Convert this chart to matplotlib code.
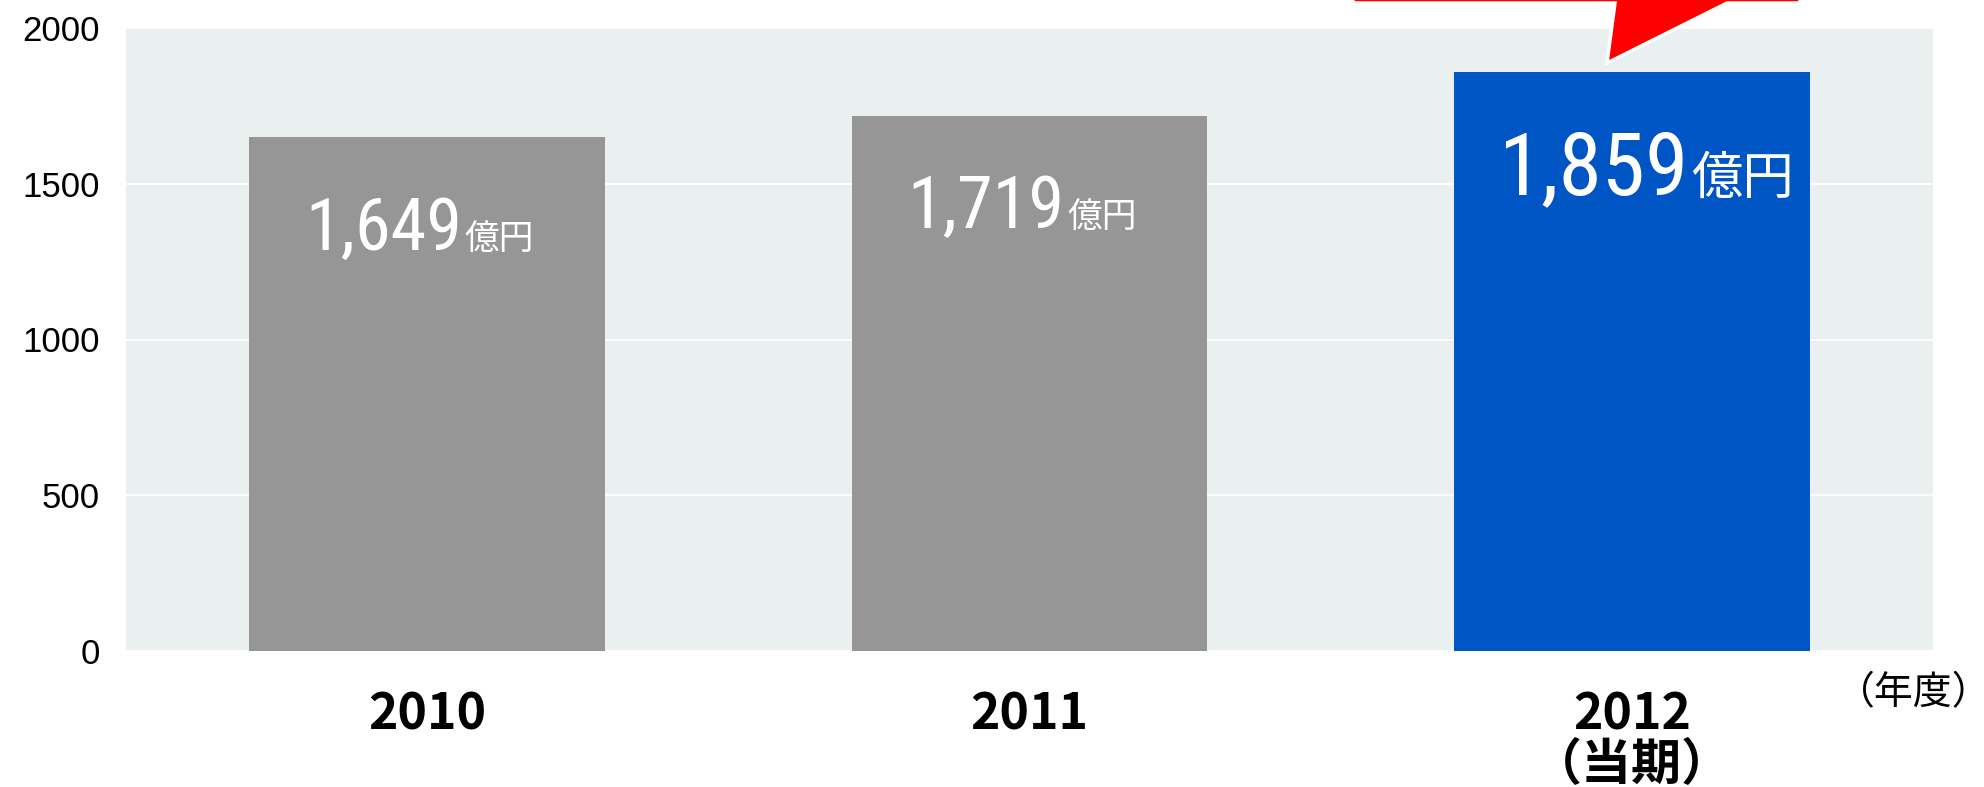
import numpy as np
import matplotlib as mpl
import matplotlib.pyplot as plt
from matplotlib.patches import Polygon

plt.rcParams['font.family'] = ['Liberation Sans', 'Noto Sans CJK JP']

years = ['2010', '2011', '2012\n（当期）']
sales = [1649, 1719, 1859]
labels = ['1,649', '1,719', '1,859']
colors = ['#969696', '#969696', '#0055C4']

W, H = 1984, 787
fig = plt.figure(figsize=(W / 100, H / 100), dpi=100, facecolor='white')
ax = fig.add_axes([126 / W, 1 - 651 / H, (1933 - 126) / W, (651 - 28) / H])
ax.set_facecolor('#EAF0F0')

x = np.arange(len(sales))
ax.bar(x, sales, width=0.59, color=colors, zorder=2)

ax.set_xlim(-0.5, 2.5)
ax.set_ylim(0, 2000)
ax.set_yticks([0, 500, 1000, 1500, 2000])
ax.yaxis.grid(True, color='white', lw=1.2, zorder=1)
for s in ax.spines.values():
    s.set_visible(False)
ax.tick_params(length=0)
ax.tick_params(axis='y', labelsize=25, pad=19)
ax.set_xticks(x)
ax.set_xticklabels(years, fontsize=36, fontweight='bold', family=['Noto Sans CJK JP'],
                   linespacing=0.98, va='top')
ax.tick_params(axis='x', pad=28)

# value labels inside bars
for i, (v, lab) in enumerate(zip(sales, labels)):
    big = i == 2
    num_fs = 63 if big else 52
    unit_fs = 37 if big else 25
    dx = 41 if big else 25
    dy = -88 if big else -81
    ax.annotate(lab, xy=(i, v), xytext=(dx, dy), textcoords='offset points',
                ha='right', va='baseline', color='white', fontsize=num_fs,
                family=['Roboto Condensed'], zorder=3)
    ax.annotate('億円', xy=(i, v), xytext=(dx + 2, dy), textcoords='offset points',
                ha='left', va='baseline', color='white', fontsize=unit_fs,
                family=['Noto Sans CJK JP'], zorder=3)

fig.text(1836 / W, 1 - 693 / H, '（年度）', fontsize=28, family=['Noto Sans CJK JP'],
         ha='left', va='center')

# red callout pointing at the current year bar
pts = [(1353, -60), (1800, -60), (1800, 3), (1727, 3), (1607, 63), (1615, 3), (1353, 3)]
poly = Polygon([(px / W, 1 - py / H) for px, py in pts], closed=True,
               transform=fig.transFigure, facecolor='#FF0000', edgecolor='white',
               lw=2.5, clip_on=False, zorder=5)
fig.patches.append(poly)

fig.savefig('out.png', dpi=100)
